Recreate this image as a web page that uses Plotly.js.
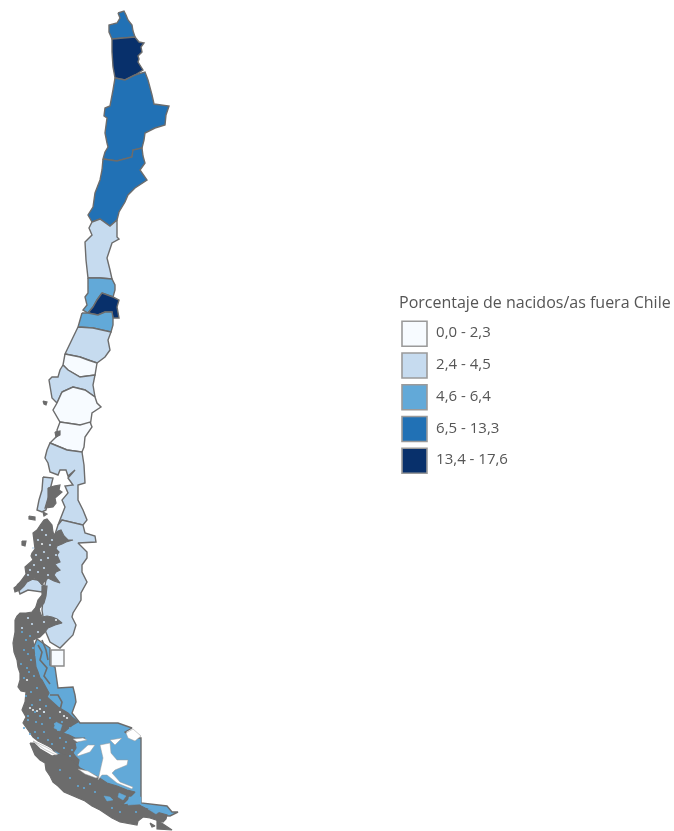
<!DOCTYPE html>
<html><head><meta charset="utf-8">
<script src="https://cdn.plot.ly/plotly-3.0.1.min.js"></script>
<style>html,body{margin:0;padding:0;background:#fff}#c{width:674px;height:831px;filter:blur(.5px)}</style>
</head><body><div id="c"></div><script>
const legendTitle='Porcentaje de nacidos/as fuera Chile';
const classLabels=['0,0 - 2,3','2,4 - 4,5','4,6 - 6,4','6,5 - 13,3','13,4 - 17,6'];
const classColors=['#f7fbff','#c6dbef','#62a9d8','#2171b5','#08306b'];
const borderColor='#6c6c6c';
// outlines: [x,y] in picture pixels
const arica=[[118,13],[124,11],[126,15],[128,20],[132,25],[133,31],[135,37],[123,38],[112,39],[109,32],[109,25],[117,23],[120,18]];
const tarapaca=[[112,39],[123,38],[135,37],[139,42],[144,43],[141,47],[142,52],[138,56],[139,59],[138,62],[143,70],[135,75],[125,80],[115,78],[113,67],[112,52]];
const antofagasta=[[115,78],[125,80],[135,75],[145,72],[148,80],[150,87],[152,95],[154,104],[169,106],[166,115],[165,125],[155,128],[145,133],[144,140],[142,148],[133,150],[132,157],[117,161],[103,159],[105,152],[108,147],[107,143],[105,133],[107,118],[104,116],[105,108],[110,106],[113,90]];
const atacama=[[103,159],[117,161],[132,157],[133,150],[142,148],[143,156],[145,163],[140,170],[147,180],[135,188],[128,195],[125,202],[119,212],[117,220],[110,226],[100,219],[92,222],[88,215],[93,207],[95,193],[100,180],[102,170]];
const coquimbo=[[92,222],[100,219],[110,226],[117,220],[117,237],[119,239],[112,243],[107,258],[110,270],[112,279],[100,278],[88,278],[86,260],[85,242],[92,235],[89,228]];
const valparaiso=[[88,278],[100,278],[112,279],[115,285],[115,290],[113,297],[102,293],[97,300],[93,307],[88,313],[83,310],[87,305],[85,297],[88,293]];
const santiago=[[102,293],[113,297],[119,300],[117,307],[119,318],[113,318],[112,312],[105,312],[98,315],[88,313],[93,307],[97,300]];
const ohiggins=[[82,313],[88,313],[98,315],[105,312],[112,312],[113,318],[113,325],[111,332],[93,328],[78,327]];
const maule=[[78,327],[93,328],[111,332],[108,340],[110,350],[105,357],[97,363],[88,360],[80,357],[65,354],[70,343]];
const nuble=[[65,354],[80,357],[88,360],[97,363],[95,375],[80,377],[68,370],[63,365]];
const biobio=[[63,365],[68,370],[80,377],[95,375],[93,385],[95,397],[85,390],[73,387],[62,392],[57,403],[52,398],[49,380],[52,377],[58,377],[60,370]];
const araucania=[[62,392],[73,387],[85,390],[95,397],[97,403],[101,407],[92,413],[91,420],[90,427],[80,425],[60,422],[53,410],[57,403]];
const losRios=[[50,443],[58,435],[57,430],[60,422],[80,425],[90,422],[92,427],[85,437],[84,447],[82,452],[67,450],[52,444]];
const losLagos=[[47,450],[50,443],[67,450],[82,452],[84,465],[85,483],[78,485],[78,500],[83,510],[87,520],[83,525],[62,520],[58,525],[65,507],[62,500],[68,493],[65,486],[73,485],[68,478],[75,470],[68,476],[66,470],[60,470],[58,475],[50,472],[48,463],[45,458]];
const chiloe=[[43,477],[53,478],[50,490],[48,500],[46,510],[42,512],[37,510],[39,500],[42,490]];
const aysen=[[58,525],[62,520],[83,525],[85,533],[95,536],[96,542],[78,543],[87,552],[87,558],[82,565],[82,572],[87,582],[81,593],[81,600],[73,613],[72,617],[76,625],[73,635],[60,648],[50,642],[45,630],[42,610],[44,590],[48,570],[50,550],[55,535]];
const taitao=[[17,585],[25,578],[38,580],[44,586],[42,592],[28,590],[20,594]];
const magallanes=[[37,639],[50,648],[50,665],[55,667],[58,688],[73,687],[75,695],[76,702],[72,713],[80,723],[118,723],[132,728],[125,732],[133,738],[141,738],[141,803],[167,806],[172,812],[178,812],[170,816],[150,815],[130,815],[110,805],[80,785],[60,760],[40,730],[30,700],[28,660]];
const palena=[[51,650],[64,650],[64,666],[51,666]];
const regionNames=['Arica','Tarapacá','Antofagasta','Atacama','Coquimbo','Valparaíso','Santiago','OHiggins','Maule','Ñuble','Biobío','Araucanía','Los Ríos','Los Lagos','Chiloé','Aysén','Taitao','Magallanes'];
const regionShapes=[arica,tarapaca,antofagasta,atacama,coquimbo,valparaiso,santiago,ohiggins,maule,nuble,biobio,araucania,losRios,losLagos,chiloe,aysen,taitao,magallanes];
const regionClass=[3,4,3,3,1,2,4,2,1,0,1,0,0,1,1,1,1,2];
const greyIslands=[
[[48,488],[54,486],[60,485],[59,490],[62,492],[55,498],[56,503],[53,507],[45,508],[48,498]],
[[55,432],[60,431],[60,435],[56,437]],
[[43,401],[47,402],[46,405],[44,404]],
[[29,516],[35,517],[35,520],[29,519]],
[[43,512],[47,514],[44,516]],
// Chonos
[[41,524],[44,520],[47,519],[50,522],[52,525],[53,532],[54,535],[58,531],[61,530],[64,536],[68,540],[73,540],[66,542],[62,544],[57,546],[56,549],[59,552],[57,555],[58,558],[60,562],[55,564],[57,567],[60,570],[56,572],[54,575],[60,583],[54,581],[48,578],[44,582],[42,585],[39,581],[35,578],[31,580],[27,582],[24,586],[20,590],[15,592],[14,588],[18,585],[23,578],[26,574],[25,567],[29,563],[33,560],[31,556],[32,553],[35,549],[34,542],[33,533],[37,530]],
[[22,541],[26,541],[25,546],[22,545]],
[[42,586],[47,586],[46,596],[44,603],[38,610],[35,610],[38,600],[42,595]],
// Guayaneco, Wellington, Riesco
[[15,620],[17,616],[20,613],[26,613],[32,612],[35,608],[38,605],[40,612],[42,617],[47,616],[52,617],[57,619],[62,623],[55,625],[48,628],[44,633],[40,637],[33,640],[34,650],[35,660],[36,667],[38,672],[40,678],[42,680],[45,686],[47,690],[49,693],[47,697],[52,702],[58,707],[63,710],[68,713],[72,717],[78,722],[71,726],[63,733],[69,735],[75,738],[85,738],[78,741],[75,743],[76,748],[73,753],[76,757],[79,760],[78,765],[78,771],[70,761],[66,756],[58,752],[48,746],[38,741],[33,737],[28,730],[23,723],[26,717],[22,710],[25,702],[26,692],[21,691],[18,687],[20,680],[20,673],[18,667],[17,660],[14,652],[13,643],[15,632]],
// Santa Ines, Tierra del Fuego south
[[30,743],[34,743],[40,749],[52,756],[60,754],[68,756],[80,768],[98,777],[107,783],[117,786],[127,790],[135,792],[131,796],[127,800],[122,805],[130,804],[137,803],[141,806],[145,808],[153,811],[167,815],[166,819],[163,822],[156,820],[150,818],[143,817],[138,821],[137,825],[130,824],[120,822],[112,818],[105,813],[100,810],[92,806],[85,801],[78,798],[70,795],[64,792],[58,786],[53,782],[50,776],[46,770],[45,763],[40,760],[35,755],[33,750]],
[[157,820],[160,822],[166,826],[172,830],[157,829]],
[[150,823],[155,826],[152,827]]];
const greyLines=[
[[38,645],[42,652],[40,660],[47,668],[44,676],[50,684]],
[[42,640],[46,650],[48,660]],
[[50,695],[58,695],[62,702],[60,710]],
[[65,716],[72,722],[70,728]]];
const blueInlets=[
[[104,796],[110,797],[113,800],[107,801]],
[[119,793],[126,796],[123,800],[118,797]],
[[129,797],[141,797],[141,804],[128,805]],
[[56,722],[62,725],[60,731],[54,728]],
[[148,809],[160,811],[156,814]]];
const whiteGaps=[
[[100,745],[110,743],[111,753],[117,760],[128,760],[127,765],[115,770],[112,773],[120,782],[133,787],[132,789],[117,783],[107,775],[102,775],[98,780],[100,770],[103,758]],
[[77,755],[88,745],[95,745],[90,752],[78,756]],
[[73,739],[83,738],[87,740],[77,742]],
[[126,733],[133,729],[141,736],[135,741],[128,738]],
[[110,740],[122,738],[115,745]],
[[78,769],[88,771],[98,777],[96,778],[85,774]],
[[33,741],[46,747],[58,754],[56,755],[44,749]]];
// small holes in the archipelago mass
const blueSpecksX=[22,26,30,24,28,33,21,27,31,36,24,29,34,26,31,37,40,32,28,36,42,24,30,44,38,48,52,58,62,35,40,46,50,55,70,64,70,60,66,72,44,35,28,90,84,95,60,70,78,112,120,136];
const blueSpecksY=[632,640,636,650,654,648,664,668,660,655,678,672,676,696,692,688,700,705,716,722,724,728,734,732,738,740,744,730,722,712,716,706,718,724,728,748,756,738,742,750,712,732,720,784,788,792,770,778,786,808,812,812];
const lightSpecksX=[42,46,38,50,44,36,41,48,34,30,38,44,28,33,52,56,48,28,22,32,38,44];
const lightSpecksY=[530,535,540,545,552,555,560,558,565,570,572,568,575,548,540,555,575,618,628,624,632,622];
const whiteSpecksX=[30,33,37,40,44,27,60,64,67,42,56];
const whiteSpecksY=[708,710,711,709,712,680,712,716,718,544,620];
const legendCats=classLabels;
const t=[];
const poly=(pts,fill,line,w,name)=>({type:'scatter',mode:'lines',x:[...pts.map(p=>p[0]),pts[0][0]],y:[...pts.map(p=>p[1]),pts[0][1]],fill:'toself',fillcolor:fill,line:{color:line,width:w},name,showlegend:false,hoverinfo:'name'});
regionShapes.forEach((s,i)=>t.push(poly(s,classColors[regionClass[i]],borderColor,1.4,regionNames[i])));
greyIslands.forEach(s=>t.push(poly(s,borderColor,borderColor,1.2,'Islas')));
blueInlets.forEach(s=>t.push(poly(s,classColors[2],classColors[2],.5,'Magallanes')));
greyLines.forEach(s=>t.push({type:'scatter',mode:'lines',x:s.map(p=>p[0]),y:s.map(p=>p[1]),line:{color:borderColor,width:1.6},showlegend:false,hoverinfo:'skip'}));
whiteGaps.forEach(s=>t.push(poly(s,'#ffffff','#9a9a9a',.5,'Mar')));
t.push(poly(palena,classColors[0],'#8a8a8a',1.4,'Palena'));
[[blueSpecksX,blueSpecksY,classColors[2]],[lightSpecksX,lightSpecksY,classColors[1]],[whiteSpecksX,whiteSpecksY,'#e8eef2']].forEach(([x,y,c])=>
 t.push({type:'scatter',mode:'markers',x,y,marker:{size:2.2,color:c,line:{width:0}},showlegend:false,hoverinfo:'skip'}));
t.push({type:'scatter',mode:'markers',cliponaxis:false,xaxis:'x2',yaxis:'y2',x:legendCats.map(()=>0.5),y:legendCats,
 marker:{symbol:'square',size:25,color:classColors,line:{color:'#9a9a9a',width:1.6}},showlegend:false,hoverinfo:'y'});
t.push({type:'scatter',mode:'text',cliponaxis:false,xaxis:'x2',yaxis:'y2',x:legendCats.map(()=>1.3),y:legendCats,text:legendCats,textposition:'middle right',
 textfont:{family:'Open Sans',size:15,color:'#555'},showlegend:false,hoverinfo:'skip'});
const hidden={visible:false,fixedrange:true};
Plotly.newPlot('c',t,{
 width:674,height:831,margin:{l:0,r:0,t:0,b:0},paper_bgcolor:'#fff',plot_bgcolor:'#fff',showlegend:false,
 xaxis:{...hidden,range:[0,674]},yaxis:{...hidden,range:[831,0]},
 xaxis2:{...hidden,anchor:'y2',domain:[401/674,671/674],range:[0,10]},
 yaxis2:{...hidden,anchor:'x2',type:'category',categoryorder:'array',categoryarray:legendCats,domain:[0.4265,0.6175],range:[4.5,-0.5]},
 annotations:[{text:legendTitle,xref:'paper',yref:'paper',x:399/674,y:1-302/831,xanchor:'left',yanchor:'middle',xshift:-2,showarrow:false,font:{family:'Open Sans',size:16,color:'#555'}}]
},{staticPlot:true,displayModeBar:false});
</script></body></html>
